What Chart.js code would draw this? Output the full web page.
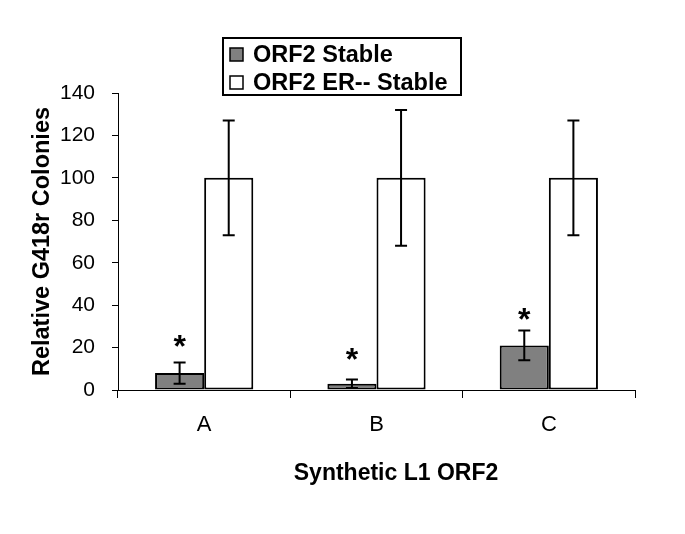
<!DOCTYPE html>
<html>
<head>
<meta charset="utf-8">
<script src="https://cdn.jsdelivr.net/npm/chart.js@4/dist/chart.umd.min.js"></script>
<style>
html, body { margin: 0; padding: 0; background: #fff; }
</style>
</head>
<body>
<canvas id="mycanvas" width="685" height="534"></canvas>
<script>
var categories = ['A', 'B', 'C'];
var seriesNames = ['ORF2 Stable', 'ORF2 ER-- Stable'];
var orf2Stable = [8, 3, 21];
var orf2StableErr = [5, 2, 7];
var orf2ErStable = [100, 100, 100];
var orf2ErStableErr = [27, 32, 27];
// where the significance stars sit (y value)
var starValues = [23, 17, 36];
var yMin = 0, yMax = 140, yStep = 20;
var xTitle = 'Synthetic L1 ORF2';
var yTitle = 'Relative G418r Colonies';

var FONT = "Arial, 'Liberation Sans', sans-serif";

var errors = [orf2StableErr, orf2ErStableErr];

var errorBars = {
  id: 'errorBars',
  afterDatasetsDraw: function(chart) {
    var ctx = chart.ctx;
    var y = chart.scales.y;
    ctx.save();
    ctx.strokeStyle = '#000';
    ctx.lineWidth = 2;
    chart.data.datasets.forEach(function(ds, i) {
      var meta = chart.getDatasetMeta(i);
      meta.data.forEach(function(bar, j) {
        var v = ds.data[j], e = errors[i][j];
        var top = y.getPixelForValue(v + e);
        var bot = y.getPixelForValue(v - e);
        ctx.beginPath();
        ctx.moveTo(bar.x, top); ctx.lineTo(bar.x, bot);
        ctx.moveTo(bar.x - 6, top); ctx.lineTo(bar.x + 6, top);
        ctx.moveTo(bar.x - 6, bot); ctx.lineTo(bar.x + 6, bot);
        ctx.stroke();
      });
    });
    // stars over the stable bars
    ctx.fillStyle = '#000';
    ctx.font = 'bold 32px ' + FONT;
    ctx.textAlign = 'center';
    ctx.textBaseline = 'alphabetic';
    var m = ctx.measureText('*');
    var shift = (m.actualBoundingBoxAscent - m.actualBoundingBoxDescent) / 2;
    chart.getDatasetMeta(0).data.forEach(function(bar, j) {
      ctx.fillText('*', bar.x, y.getPixelForValue(starValues[j]) + shift);
    });
    ctx.restore();
  }
};

var boxLegend = {
  id: 'boxLegend',
  afterDraw: function(chart) {
    var ctx = chart.ctx;
    ctx.save();
    ctx.strokeStyle = '#000';
    ctx.lineWidth = 2;
    ctx.strokeRect(223, 38, 238, 57);
    ctx.font = 'bold 23.5px ' + FONT;
    ctx.textBaseline = 'middle';
    ctx.textAlign = 'left';
    chart.data.datasets.forEach(function(ds, i) {
      var cy = 55 + i * 28;
      ctx.fillStyle = ds.backgroundColor;
      ctx.fillRect(230, cy - 7, 13, 13);
      ctx.lineWidth = 1.5;
      ctx.strokeRect(230, cy - 7, 13, 13);
      ctx.fillStyle = '#000';
      ctx.fillText(ds.label, 253, cy + 1);
    });
    // x axis title, sits a little right of the plot centre
    ctx.font = 'bold 23px ' + FONT;
    ctx.textAlign = 'center';
    ctx.fillText(xTitle, 396, 474);
    ctx.restore();
  }
};

var chartdata = {
  labels: categories,
  datasets: [
    {
      label: seriesNames[0],
      data: orf2Stable,
      backgroundColor: '#808080',
      borderColor: '#000',
      borderWidth: 2,
      borderSkipped: false
    },
    {
      label: seriesNames[1],
      data: orf2ErStable,
      backgroundColor: '#ffffff',
      borderColor: '#000',
      borderWidth: 2,
      borderSkipped: false
    }
  ]
};

var ctx = document.querySelector('#mycanvas');

var barGraph = new Chart(ctx, {
  type: 'bar',
  data: chartdata,
  plugins: [errorBars, boxLegend],
  options: {
    responsive: false,
    animation: false,
    layout: { padding: { top: 93, right: 50, left: 0, bottom: 0 } },
    datasets: { bar: { categoryPercentage: 0.57, barPercentage: 1.0 } },
    plugins: { legend: { display: false }, tooltip: { enabled: false } },
    scales: {
      x: {
        afterFit: function(s) { s.height = 144; },
        grid: { drawOnChartArea: false, tickLength: 8, color: '#000', offset: true },
        border: { color: '#000', width: 1 },
        ticks: { color: '#000', padding: 14, font: { family: FONT, size: 22 } }
      },
      y: {
        min: yMin, max: yMax,
        afterFit: function(s) { s.width = 118; },
        grid: { drawOnChartArea: false, tickLength: 6, color: '#000' },
        border: { color: '#000', width: 1 },
        ticks: { stepSize: yStep, color: '#000', padding: 17, font: { family: FONT, size: 21 } },
        title: {
          display: true, text: yTitle, color: '#000',
          font: { family: FONT, size: 23.5, weight: 'bold' },
          padding: { top: 28, bottom: 0 }
        }
      }
    }
  }
});
</script>
</body>
</html>
